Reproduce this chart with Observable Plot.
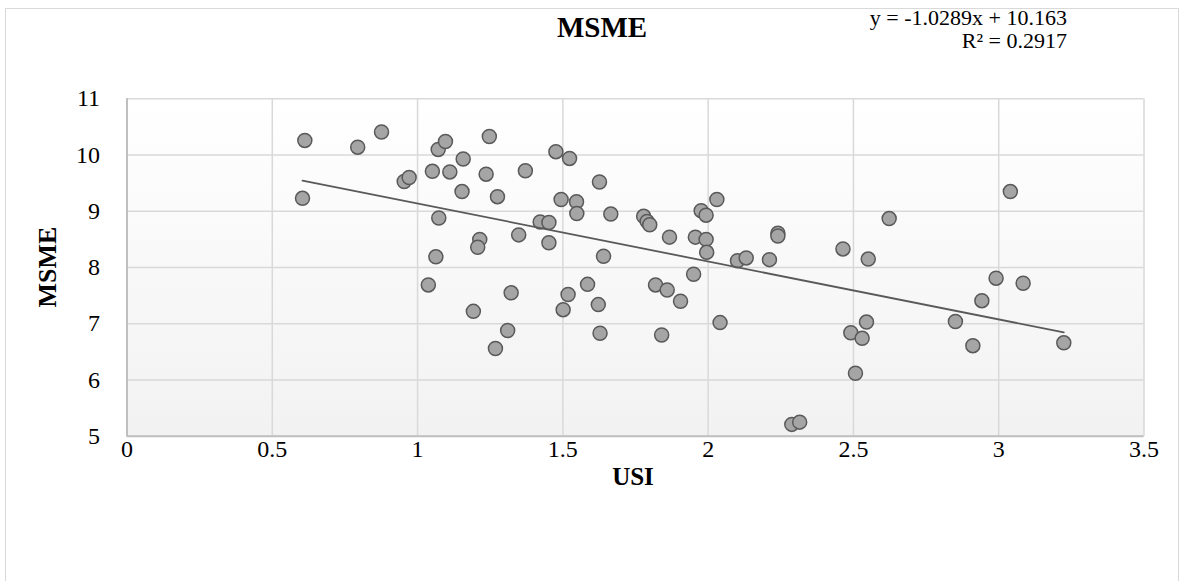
<!DOCTYPE html>
<html>
<head>
<meta charset="utf-8">
<script src="https://cdn.jsdelivr.net/npm/d3@7"></script>
<script src="https://cdn.jsdelivr.net/npm/@observablehq/plot@0.6"></script>
<style>
  html, body { margin: 0; padding: 0; background: #fff; overflow: hidden; }
  #wrap { position: relative; width: 1182px; height: 581px; font-family: "Liberation Serif", "Times New Roman", serif; color: #000; }
  #border { position: absolute; left: 5px; top: 8px; width: 1174px; height: 600px; border: 1px solid #d9d9d9; box-sizing: border-box; }
  .lbl { position: absolute; white-space: nowrap; line-height: 1; }
  #chart svg text { font-family: "Liberation Serif", "Times New Roman", serif !important; }
</style>
</head>
<body>
<div id="wrap">
  <div id="border"></div>
  <div id="chart" style="position:absolute;left:0;top:0;"></div>
  <div class="lbl" id="title" style="left:602px;top:13px;transform:translateX(-50%);font-weight:bold;font-size:29px;">MSME</div>
  <div class="lbl" id="eq1" style="right:115px;top:7px;font-size:22px;text-align:right;">y = -1.0289x + 10.163</div>
  <div class="lbl" id="eq2" style="right:115px;top:30px;font-size:22px;text-align:right;">R² = 0.2917</div>
  <div class="lbl" id="ylab" style="left:48px;top:267px;transform:translate(-50%,-50%) rotate(-90deg);font-weight:bold;font-size:26px;">MSME</div>
  <div class="lbl" id="xlab" style="left:633px;top:464px;transform:translateX(-50%);font-weight:bold;font-size:25px;">USI</div>
</div>
<script>
// Data
const usi = [0.612, 0.604, 0.794, 0.876, 0.954, 0.971, 1.051, 1.071, 1.096, 1.111,
  1.157, 1.153, 1.073, 1.063, 1.037, 1.247, 1.236, 1.275, 1.214, 1.207,
  1.192, 1.322, 1.310, 1.268, 1.371, 1.348, 1.422, 1.452, 1.452, 1.476,
  1.523, 1.494, 1.547, 1.548, 1.501, 1.518, 1.585, 1.626, 1.665, 1.640,
  1.622, 1.628, 1.778, 1.790, 1.799, 1.819, 1.859, 1.840, 1.867, 1.905,
  1.950, 1.956, 1.976, 1.993, 1.993, 1.995, 2.030, 2.041, 2.101, 2.131,
  2.211, 2.240, 2.240, 2.288, 2.315, 2.464, 2.551, 2.623, 2.491, 2.545,
  2.530, 2.507, 2.851, 2.911, 2.942, 2.991, 3.040, 3.084, 3.224];
const msme = [10.26, 9.23, 10.14, 10.41, 9.53, 9.60, 9.71, 10.10, 10.24, 9.70,
  9.93, 9.35, 8.88, 8.19, 7.69, 10.33, 9.66, 9.26, 8.50, 8.36,
  7.22, 7.55, 6.88, 6.56, 9.72, 8.58, 8.81, 8.80, 8.44, 10.06,
  9.94, 9.21, 9.17, 8.96, 7.25, 7.52, 7.70, 9.52, 8.95, 8.20,
  7.34, 6.83, 8.91, 8.82, 8.76, 7.69, 7.60, 6.80, 8.54, 7.40,
  7.88, 8.54, 9.01, 8.93, 8.50, 8.27, 9.21, 7.02, 8.12, 8.17,
  8.14, 8.61, 8.56, 5.21, 5.25, 8.33, 8.15, 8.87, 6.84, 7.03,
  6.74, 6.12, 7.04, 6.61, 7.41, 7.81, 9.35, 7.72, 6.66];
const xTicks = [0, 0.5, 1, 1.5, 2, 2.5, 3, 3.5];
const yTicks = [5, 6, 7, 8, 9, 10, 11];
const xDomain = [0, 3.5];
const yDomain = [5, 11];

const data = usi.map((u, i) => ({usi: u, msme: msme[i]}));

const fontFam = "'Liberation Serif', 'Times New Roman', serif";
const plot = Plot.plot({
  width: 1182,
  height: 581,
  marginLeft: 126.5,
  marginRight: 38.5,
  marginTop: 98.3,
  marginBottom: 145.3,
  style: {fontFamily: fontFam, color: "#000", background: "transparent", overflow: "visible"},
  x: {domain: xDomain, ticks: xTicks},
  y: {domain: yDomain, ticks: yTicks},
  marks: [
    Plot.frame({fill: "url(#plotBg)", stroke: "none"}),
    Plot.gridX(xTicks, {stroke: "#d9d9d9", strokeOpacity: 1, strokeWidth: 1.5}),
    Plot.gridY(yTicks, {stroke: "#d9d9d9", strokeOpacity: 1, strokeWidth: 1.5}),
    Plot.ruleX([xDomain[0]], {stroke: "#bfbfbf", strokeWidth: 2}),
    Plot.ruleY([yDomain[0]], {stroke: "#bfbfbf", strokeWidth: 2}),
    Plot.axisX(xTicks, {tickSize: 0, tickPadding: 4, fontSize: 24, fontFamily: fontFam, fill: "#000", label: null, tickFormat: d => String(d)}),
    Plot.axisY(yTicks, {tickSize: 0, tickPadding: 27, fontSize: 24, fontFamily: fontFam, fill: "#000", label: null, tickFormat: d => String(d)}),
    Plot.dot(data, {x: "usi", y: "msme", r: 7, fill: "#a5a5a5", stroke: "#595959", strokeWidth: 1.5}),
    Plot.linearRegressionY(data, {x: "usi", y: "msme", ci: 0, stroke: "#595959", strokeWidth: 1.8})
  ]
});

const svg = d3.select(plot);
svg.selectAll("text").attr("font-family", fontFam).style("font-family", fontFam);
const grad = svg.insert("defs", ":first-child").append("linearGradient")
  .attr("id", "plotBg").attr("x1", 0).attr("y1", 0).attr("x2", 0).attr("y2", 1);
grad.append("stop").attr("offset", "0%").attr("stop-color", "#ffffff");
grad.append("stop").attr("offset", "100%").attr("stop-color", "#f2f2f2");

document.getElementById("chart").appendChild(plot);
</script>
</body>
</html>
